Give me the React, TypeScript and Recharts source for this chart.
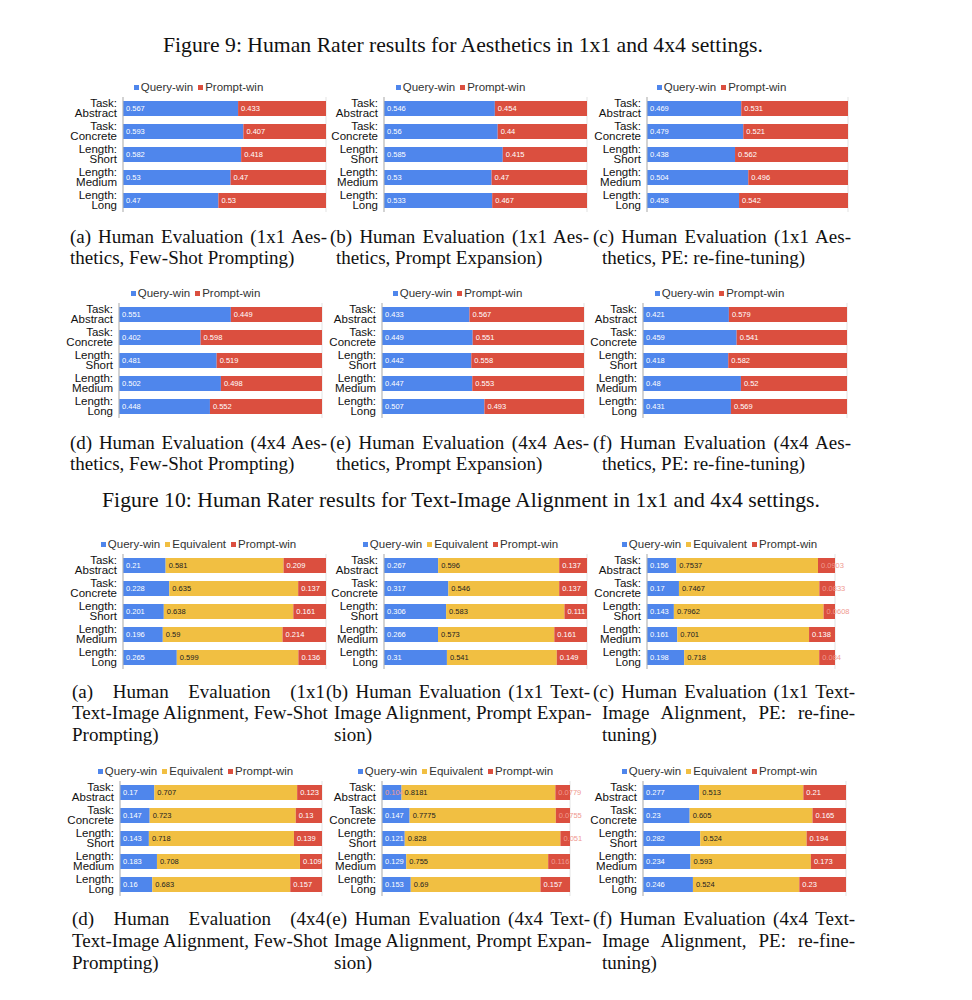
import React from 'react';
import { BarChart, Bar, XAxis, YAxis, CartesianGrid, Legend, LabelList } from 'recharts';

const CATEGORIES = ['Task: Abstract', 'Task: Concrete', 'Length: Short', 'Length: Medium', 'Length: Long'];
const X_TICKS = [0, 0.25, 0.5, 0.75, 1];

// Figure 9: Aesthetics (Query-win / Prompt-win)
const AES_A_QUERY = [0.567, 0.593, 0.582, 0.53, 0.47];
const AES_A_PROMPT = [0.433, 0.407, 0.418, 0.47, 0.53];
const AES_B_QUERY = [0.546, 0.56, 0.585, 0.53, 0.533];
const AES_B_PROMPT = [0.454, 0.44, 0.415, 0.47, 0.467];
const AES_C_QUERY = [0.469, 0.479, 0.438, 0.504, 0.458];
const AES_C_PROMPT = [0.531, 0.521, 0.562, 0.496, 0.542];
const AES_D_QUERY = [0.551, 0.402, 0.481, 0.502, 0.448];
const AES_D_PROMPT = [0.449, 0.598, 0.519, 0.498, 0.552];
const AES_E_QUERY = [0.433, 0.449, 0.442, 0.447, 0.507];
const AES_E_PROMPT = [0.567, 0.551, 0.558, 0.553, 0.493];
const AES_F_QUERY = [0.421, 0.459, 0.418, 0.48, 0.431];
const AES_F_PROMPT = [0.579, 0.541, 0.582, 0.52, 0.569];

// Figure 10: Text-Image Alignment (Query-win / Equivalent / Prompt-win)
const TIA_A_QUERY = [0.21, 0.228, 0.201, 0.196, 0.265];
const TIA_A_EQUIV = [0.581, 0.635, 0.638, 0.59, 0.599];
const TIA_A_PROMPT = [0.209, 0.137, 0.161, 0.214, 0.136];
const TIA_B_QUERY = [0.267, 0.317, 0.306, 0.266, 0.31];
const TIA_B_EQUIV = [0.596, 0.546, 0.583, 0.573, 0.541];
const TIA_B_PROMPT = [0.137, 0.137, 0.111, 0.161, 0.149];
const TIA_C_QUERY = [0.156, 0.17, 0.143, 0.161, 0.198];
const TIA_C_EQUIV = [0.7537, 0.7467, 0.7962, 0.701, 0.718];
const TIA_C_PROMPT = [0.0903, 0.0833, 0.0608, 0.138, 0.084];
const TIA_D_QUERY = [0.17, 0.147, 0.143, 0.183, 0.16];
const TIA_D_EQUIV = [0.707, 0.723, 0.718, 0.708, 0.683];
const TIA_D_PROMPT = [0.123, 0.13, 0.139, 0.109, 0.157];
const TIA_E_QUERY = [0.104, 0.147, 0.121, 0.129, 0.153];
const TIA_E_EQUIV = [0.8181, 0.7775, 0.828, 0.755, 0.69];
const TIA_E_PROMPT = [0.0779, 0.0755, 0.051, 0.116, 0.157];
const TIA_F_QUERY = [0.277, 0.23, 0.282, 0.234, 0.246];
const TIA_F_EQUIV = [0.513, 0.605, 0.524, 0.593, 0.524];
const TIA_F_PROMPT = [0.21, 0.165, 0.194, 0.173, 0.23];

const BLUE = '#4f86ec';
const YELLOW = '#f1bf42';
const RED = '#db4f3f';
const SANS = '"Liberation Sans", Arial, sans-serif';
const SERIF = '"Liberation Serif", "Times New Roman", serif';

const PLOT_H = 115;
const LEGEND_H = 14;
const MARGIN_TOP = 4;

const buildRows = (query: number[], prompt: number[], equiv?: number[]) =>
  CATEGORIES.map((name, i) => ({
    name,
    query: query[i],
    equiv: equiv ? equiv[i] : undefined,
    prompt: prompt[i],
  }));

// two-line category label, right aligned ~6px left of the axis
const renderCategoryTick = (props: any) => {
  const { x, y, payload } = props;
  const idx = payload.value.indexOf(' ');
  const l1 = payload.value.slice(0, idx);
  const l2 = payload.value.slice(idx + 1);
  const tx = x + 2;
  return (
    <text x={tx} y={y} textAnchor="end" fill="#111" style={{ fontSize: '11.5px', fontFamily: SANS }}>
      <tspan x={tx} dy={-2}>{l1}</tspan>
      <tspan x={tx} dy={10.5}>{l2}</tspan>
    </text>
  );
};

const makeLabel = (textFill: string) => (props: any) => {
  const { x, y, width, height, value } = props;
  const tw = String(value).length * 3.6;
  const fill = textFill === '#ffffff' && width - 4 < tw ? '#f09a90' : textFill;
  return (
    <text x={x + 3} y={y + height / 2} dy={2.7} fill={fill} style={{ fontSize: '7.5px', fontFamily: SANS }}>
      {value}
    </text>
  );
};

interface PanelProps {
  query: number[];
  prompt: number[];
  equiv?: number[];
  plotLeft: number;
  plotRight: number;
  plotTop: number;
  legendCx: number;
}

const Panel: React.FC<PanelProps> = ({ query, prompt, equiv, plotLeft, plotRight, plotTop, legendCx }) => {
  const chartLeft = plotLeft - 60;
  const yAxisW = plotLeft - chartLeft;
  const marginRight = 16;
  const width = yAxisW + (plotRight - plotLeft) + marginRight;
  const chartTop = plotTop - MARGIN_TOP - LEGEND_H;
  const height = MARGIN_TOP + LEGEND_H + PLOT_H + 6;
  const data = buildRows(query, prompt, equiv);
  const items = equiv
    ? [
        { label: 'Query-win', color: BLUE },
        { label: 'Equivalent', color: YELLOW },
        { label: 'Prompt-win', color: RED },
      ]
    : [
        { label: 'Query-win', color: BLUE },
        { label: 'Prompt-win', color: RED },
      ];

  const renderLegend = () => (
    <div style={{ display: 'flex', justifyContent: 'center', height: LEGEND_H, lineHeight: `${LEGEND_H}px`, fontFamily: SANS, fontSize: 11.5, color: '#333' }}>
      {items.map((it) => (
        <span key={it.label} style={{ display: 'inline-flex', alignItems: 'center', marginRight: 5 }}>
          <span style={{ width: 5, height: 5, background: it.color, marginRight: 2, display: 'inline-block' }} />
          {it.label}
        </span>
      ))}
    </div>
  );

  return (
    <div style={{ position: 'absolute', left: chartLeft, top: chartTop }}>
      <BarChart
        width={width}
        height={height}
        data={data}
        layout="vertical"
        margin={{ top: MARGIN_TOP, right: marginRight, bottom: 6, left: 0 }}
      >
        <CartesianGrid horizontal={false} stroke="#e3e3e3" />
        <XAxis type="number" domain={[0, 1]} ticks={X_TICKS} tick={false} axisLine={false} tickLine={false} height={0} />
        <YAxis
          type="category"
          dataKey="name"
          width={yAxisW}
          axisLine={{ stroke: '#b5b5b5' }}
          tickLine={false}
          interval={0}
          tick={renderCategoryTick}
        />
        <Legend
          verticalAlign="top"
          content={renderLegend}
          wrapperStyle={{ left: legendCx - chartLeft - 150, width: 300, top: 1 }}
        />
        <Bar dataKey="query" stackId="s" fill={BLUE} barSize={15} isAnimationActive={false}>
          <LabelList dataKey="query" content={makeLabel('#ffffff')} />
        </Bar>
        {equiv && (
          <Bar dataKey="equiv" stackId="s" fill={YELLOW} barSize={15} isAnimationActive={false}>
            <LabelList dataKey="equiv" content={makeLabel('#222222')} />
          </Bar>
        )}
        <Bar dataKey="prompt" stackId="s" fill={RED} barSize={15} isAnimationActive={false}>
          <LabelList dataKey="prompt" content={makeLabel('#ffffff')} />
        </Bar>
      </BarChart>
    </div>
  );
};

interface LineProps {
  x: number;
  y: number;
  text: string;
  w?: number;
  size?: number;
  center?: boolean;
}

const TextLine: React.FC<LineProps> = ({ x, y, text, w, size = 19, center }) => (
  <div
    style={{
      position: 'absolute',
      left: center ? x - 400 : x,
      top: y - 12,
      height: 24,
      lineHeight: '24px',
      width: center ? 800 : w,
      whiteSpace: 'nowrap',
      fontFamily: SERIF,
      fontSize: size,
      color: '#111',
      textAlign: center ? 'center' : w ? 'justify' : 'left',
      textAlignLast: center ? 'center' : w ? 'justify' : 'auto',
    }}
  >
    {text}
  </div>
);

const App: React.FC = () => {
  return (
    <div style={{ position: 'absolute', left: 0, top: 0, width: 972, height: 1000, background: '#fff', overflow: 'hidden' }}>
      <TextLine x={463} y={45} size={21.7} center text="Figure 9: Human Rater results for Aesthetics in 1x1 and 4x4 settings." />

      <Panel query={AES_A_QUERY} prompt={AES_A_PROMPT} plotLeft={123} plotRight={326} plotTop={97} legendCx={201} />
      <Panel query={AES_B_QUERY} prompt={AES_B_PROMPT} plotLeft={384} plotRight={587} plotTop={97} legendCx={463} />
      <Panel query={AES_C_QUERY} prompt={AES_C_PROMPT} plotLeft={647} plotRight={848} plotTop={97} legendCx={724} />

      <TextLine x={70} y={237} text="(a) Human Evaluation (1x1 Aes-" w={257} />
      <TextLine x={70} y={258} text="thetics, Few-Shot Prompting)" />
      <TextLine x={330} y={237} text="(b) Human Evaluation (1x1 Aes-" w={259} />
      <TextLine x={336} y={258} text="thetics, Prompt Expansion)" />
      <TextLine x={593} y={237} text="(c) Human Evaluation (1x1 Aes-" w={258} />
      <TextLine x={602} y={258} text="thetics, PE: re-fine-tuning)" />

      <Panel query={AES_D_QUERY} prompt={AES_D_PROMPT} plotLeft={119} plotRight={322} plotTop={303} legendCx={198} />
      <Panel query={AES_E_QUERY} prompt={AES_E_PROMPT} plotLeft={382} plotRight={584} plotTop={303} legendCx={460} />
      <Panel query={AES_F_QUERY} prompt={AES_F_PROMPT} plotLeft={643} plotRight={847} plotTop={303} legendCx={722} />

      <TextLine x={70} y={443} text="(d) Human Evaluation (4x4 Aes-" w={257} />
      <TextLine x={70} y={464} text="thetics, Few-Shot Prompting)" />
      <TextLine x={330} y={443} text="(e) Human Evaluation (4x4 Aes-" w={259} />
      <TextLine x={336} y={464} text="thetics, Prompt Expansion)" />
      <TextLine x={593} y={443} text="(f) Human Evaluation (4x4 Aes-" w={258} />
      <TextLine x={602} y={464} text="thetics, PE: re-fine-tuning)" />

      <TextLine x={461} y={500} size={21.7} center text="Figure 10: Human Rater results for Text-Image Alignment in 1x1 and 4x4 settings." />

      <Panel query={TIA_A_QUERY} equiv={TIA_A_EQUIV} prompt={TIA_A_PROMPT} plotLeft={123} plotRight={326} plotTop={554} legendCx={201} />
      <Panel query={TIA_B_QUERY} equiv={TIA_B_EQUIV} prompt={TIA_B_PROMPT} plotLeft={384} plotRight={587} plotTop={554} legendCx={463} />
      <Panel query={TIA_C_QUERY} equiv={TIA_C_EQUIV} prompt={TIA_C_PROMPT} plotLeft={647} plotRight={835} plotTop={554} legendCx={722} />

      <TextLine x={72} y={692} text="(a) Human Evaluation (1x1" w={253} />
      <TextLine x={72} y={713} text="Text-Image Alignment, Few-Shot" w={253} />
      <TextLine x={72} y={735} text="Prompting)" />
      <TextLine x={326} y={692} text="(b) Human Evaluation (1x1 Text-" w={264} />
      <TextLine x={334} y={713} text="Image Alignment, Prompt Expan-" w={256} />
      <TextLine x={334} y={735} text="sion)" />
      <TextLine x={593} y={692} text="(c) Human Evaluation (1x1 Text-" w={262} />
      <TextLine x={602} y={713} text="Image Alignment, PE: re-fine-" w={253} />
      <TextLine x={602} y={735} text="tuning)" />

      <Panel query={TIA_D_QUERY} equiv={TIA_D_EQUIV} prompt={TIA_D_PROMPT} plotLeft={120} plotRight={322} plotTop={781} legendCx={198} />
      <Panel query={TIA_E_QUERY} equiv={TIA_E_EQUIV} prompt={TIA_E_PROMPT} plotLeft={382} plotRight={570} plotTop={781} legendCx={458} />
      <Panel query={TIA_F_QUERY} equiv={TIA_F_EQUIV} prompt={TIA_F_PROMPT} plotLeft={643} plotRight={846} plotTop={781} legendCx={722} />

      <TextLine x={72} y={919} text="(d) Human Evaluation (4x4" w={253} />
      <TextLine x={72} y={941} text="Text-Image Alignment, Few-Shot" w={253} />
      <TextLine x={72} y={963} text="Prompting)" />
      <TextLine x={326} y={919} text="(e) Human Evaluation (4x4 Text-" w={264} />
      <TextLine x={334} y={941} text="Image Alignment, Prompt Expan-" w={256} />
      <TextLine x={334} y={963} text="sion)" />
      <TextLine x={593} y={919} text="(f) Human Evaluation (4x4 Text-" w={262} />
      <TextLine x={602} y={941} text="Image Alignment, PE: re-fine-" w={253} />
      <TextLine x={602} y={963} text="tuning)" />
    </div>
  );
};

export default App;
